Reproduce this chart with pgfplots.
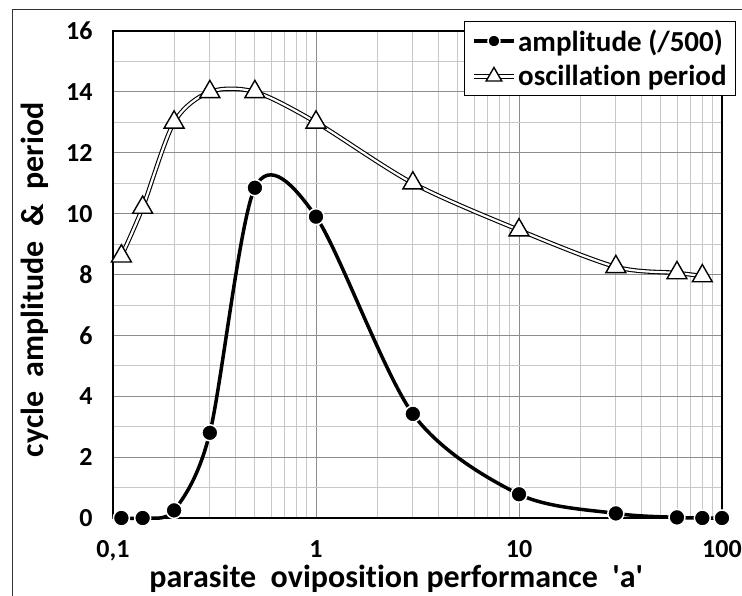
\documentclass[border=0pt]{standalone}
\usepackage{fontspec}
\setmainfont{Carlito}[Ligatures=NoCommon]
\usepackage{pgfplots}
\pgfplotsset{compat=1.18}
\pgfplotsset{
  ampleg/.style={legend image code/.code={
    \draw[##1, mark=none, line width=3.5pt] (0pt,0pt) -- (40pt,0pt);
    \draw[##1, mark size=6pt] plot coordinates {(20pt,0pt)};}},
  perleg/.style={legend image code/.code={
    \draw[##1, mark=none] (0pt,0pt) -- (40pt,0pt);
    \draw[##1, mark size=9pt] plot coordinates {(20pt,0pt)};}},
}
\begin{document}
\begin{tikzpicture}[x=1pt,y=1pt]
\begin{axis}[at={(0,0)}, anchor=south west, scale only axis,
  width=609pt, height=487pt,
  xmode=log, xmin=0.1, xmax=100, ymin=0, ymax=16,
  ytick={0,2,...,16}, minor y tick num=1,
  xtick={0.1,1,10,100}, xticklabels={{0,1},1,10,100},
  grid=both,
  major grid style={draw=black!45, line width=0.8pt},
  minor grid style={draw=black!22, line width=0.8pt},
  major tick length=0pt, minor tick length=0pt,
  axis line style={black, line width=1.4pt},
  /pgf/number format/assume math mode=true,
  ticklabel style={font=\fontsize{26}{30}\selectfont\bfseries},
  xticklabel style={yshift=-19pt},
  yticklabel style={xshift=-17pt},
  xlabel={parasite\ \ oviposition performance\ \ \textquotesingle a\textquotesingle},
  ylabel={cycle\ \ amplitude\ \ \&\ \ period},
  label style={font=\fontsize{32}{36}\selectfont\bfseries},
  xlabel style={at={(axis description cs:0.465,-0.125)}, anchor=center},
  ylabel style={at={(axis description cs:-0.128,0.489)}, anchor=center},
  legend style={at={(rel axis cs:1.023,1.0205)}, anchor=north east,
    draw=black, line width=1pt, fill=white,
    font=\fontsize{29}{33}\selectfont\bfseries, row sep=9pt,
    inner xsep=7pt, inner ysep=6pt},
  legend cell align=left,
  clip=false,
]
\addplot[black, line width=3.5pt, smooth, mark=*, mark size=8pt,
  mark options={fill=black, draw=white, line width=1.5pt}, ampleg]
  coordinates {(0.11,0) (0.14,0) (0.2,0.25) (0.3,2.8) (0.5,10.85) (1,9.9)
    (3,3.42) (10,0.78) (30,0.15) (60,0.02) (80,0) (100,0)};
\addlegendentry{amplitude (/500)}
\addplot[draw=black, double=white, double distance=2.2pt, line width=1.1pt, smooth,
  mark=triangle*, mark size=11.5pt,
  mark options={fill=white, draw=black, line width=1.4pt, solid}, perleg]
  coordinates {(0.11,8.6) (0.14,10.2) (0.2,13.0) (0.3,14.0) (0.5,14.0) (1,13.0)
    (3,11.0) (10,9.46) (30,8.25) (60,8.05) (80,7.95)};
\addlegendentry{oscillation period}
\end{axis}
\draw[black!80, line width=0.8pt] (-101pt,-78pt) -- (-101pt,509pt) -- (629pt,509pt);
\pgfresetboundingbox
\path[use as bounding box] (-113pt,-78pt) rectangle (629pt,518pt);
\end{tikzpicture}
\end{document}
